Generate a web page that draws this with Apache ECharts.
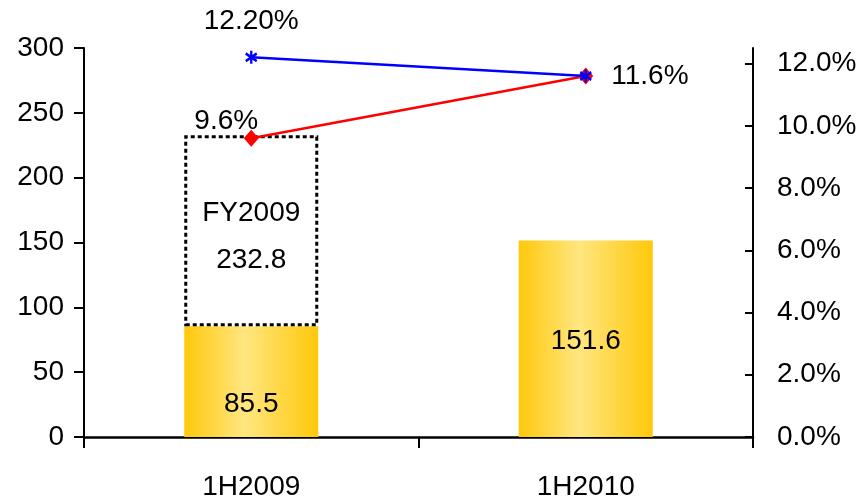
<!DOCTYPE html>
<html><head><meta charset="utf-8">
<script src="https://cdn.jsdelivr.net/npm/echarts@6/dist/echarts.min.js"></script>
<style>html,body{margin:0;padding:0;background:#fff}#c{width:861px;height:503px}</style>
</head><body><div id="c"></div>
<script>
var categories = ['1H2009', '1H2010'];
var halfYear = [85.5, 151.6];
var fullYear = [232.8, null];
var fullYearName = 'FY2009';
var blueRate = [12.2, 11.6];
var redRate = [9.6, 11.6];
var leftTicks = [0, 50, 100, 150, 200, 250, 300];
var rightTicks = [0, 2, 4, 6, 8, 10, 12];

var FONT = '"Liberation Sans", Arial, sans-serif';
var FS = 28;
var chart = echarts.init(document.getElementById('c'), null, {renderer: 'canvas'});
var gold = new echarts.graphic.LinearGradient(0, 0, 1, 0, [
  {offset: 0, color: '#FFC80A'},
  {offset: 0.45, color: '#FFE680'},
  {offset: 1, color: '#FFC80A'}
]);
var rest = fullYear.map(function (v, i) { return v == null ? null : +(v - halfYear[i]).toFixed(1); });

chart.setOption({
  animation: false,
  grid: {left: 84, right: 108, top: 48, bottom: 66, outerBoundsMode: 'none'},
  xAxis: {
    type: 'category', data: categories, boundaryGap: true,
    axisLine: {lineStyle: {color: '#000', width: 2.5}},
    axisTick: {show: true, length: 11, lineStyle: {color: '#000', width: 2}, alignWithLabel: false},
    axisLabel: {color: '#000', fontFamily: FONT, fontSize: FS, margin: 36}
  },
  yAxis: [{
    type: 'value', min: 0, max: 300, interval: 50,
    axisLine: {show: true, lineStyle: {color: '#000', width: 2}},
    axisTick: {show: true, length: 10, lineStyle: {color: '#000', width: 2}},
    axisLabel: {color: '#000', fontFamily: FONT, fontSize: FS, margin: 20,
      customValues: leftTicks},
    splitLine: {show: false}
  }, {
    type: 'value', min: 0, max: 12.5, interval: 2, position: 'right',
    axisLine: {show: true, lineStyle: {color: '#000', width: 2}},
    axisTick: {show: true, inside: true, length: 8, lineStyle: {color: '#000', width: 2},
      customValues: rightTicks},
    axisLabel: {color: '#000', fontFamily: FONT, fontSize: FS, margin: 24,
      customValues: rightTicks,
      formatter: function (v) { return v.toFixed(1) + '%'; }},
    splitLine: {show: false}
  }],
  series: [{
    type: 'bar', stack: 'a', barWidth: 134, yAxisIndex: 0,
    data: halfYear.map(function (v, i) {
      return {value: v, label: i === 0 ? {position: 'insideBottom', distance: 19} : {position: 'inside', offset: [0, 3]}};
    }),
    itemStyle: {color: gold},
    label: {show: true, color: '#000', fontFamily: FONT, fontSize: FS}
  }, {
    type: 'bar', stack: 'a', barWidth: 134, yAxisIndex: 0,
    data: rest,
    itemStyle: {color: 'rgba(255,255,255,0)', borderColor: '#000', borderWidth: 3, borderType: [4, 3]},
    label: {show: true, position: 'inside', offset: [0, 6], color: '#000', fontFamily: FONT, fontSize: FS,
      lineHeight: 47,
      formatter: function (p) { return fullYearName + '\n' + fullYear[p.dataIndex]; }}
  }, {
    type: 'line', yAxisIndex: 1, z: 5,
    data: redRate.map(function (v, i) {
      return {value: v, label: i === 0
        ? {show: true, position: 'top', distance: -6, offset: [-25, 0]}
        : {show: true, position: 'right', distance: 18}};
    }),
    lineStyle: {color: '#FF0000', width: 2.5},
    itemStyle: {color: '#FF0000'},
    symbol: 'diamond', symbolSize: [15, 17],
    label: {color: '#000', fontFamily: FONT, fontSize: FS,
      formatter: function (p) { return p.value.toFixed(1) + '%'; }}
  }, {
    type: 'line', yAxisIndex: 1, z: 6,
    data: blueRate.map(function (v, i) {
      return {value: v, label: {show: i === 0, position: 'top', distance: 14}};
    }),
    lineStyle: {color: '#0000FF', width: 2.5},
    itemStyle: {color: '#0000FF', borderColor: '#0000FF', borderWidth: 2.5},
    symbol: 'path://M0,-6L0,6M-5,-3.5L5,3.5M-5,3.5L5,-3.5', symbolSize: [11, 13],
    label: {color: '#000', fontFamily: FONT, fontSize: FS,
      formatter: function (p) { return p.value.toFixed(2) + '%'; }}
  }]
});
</script></body></html>
